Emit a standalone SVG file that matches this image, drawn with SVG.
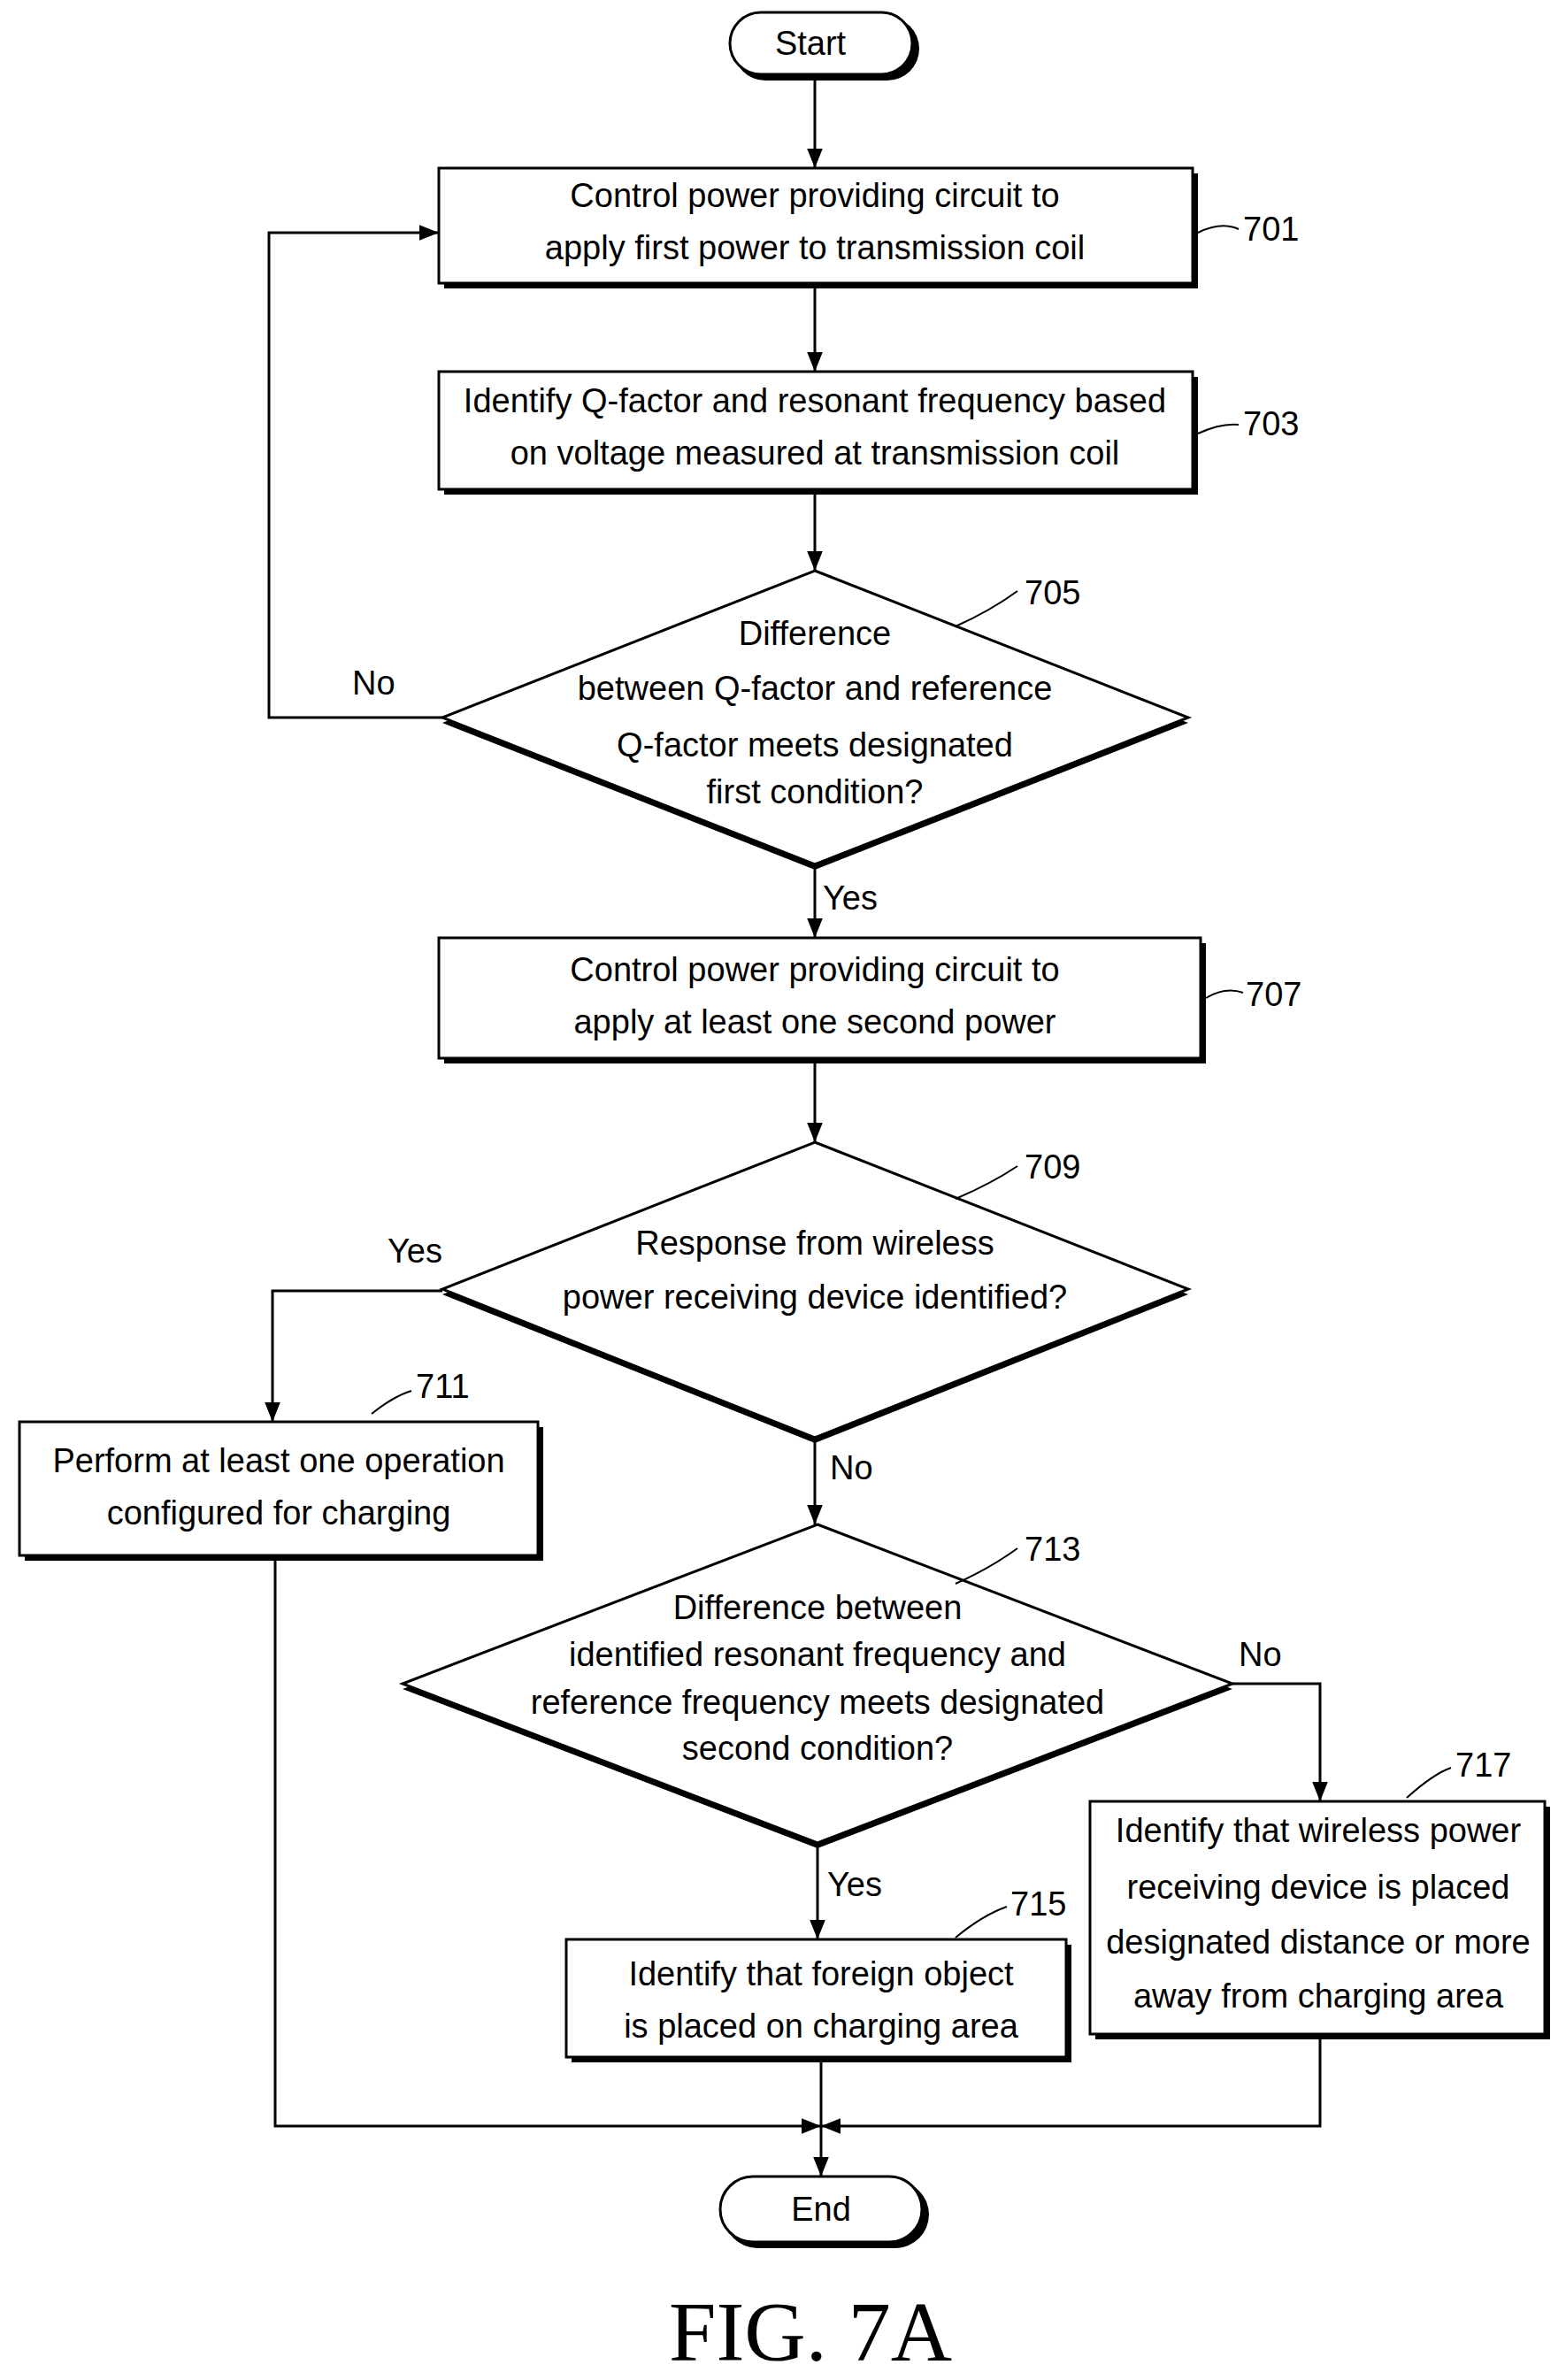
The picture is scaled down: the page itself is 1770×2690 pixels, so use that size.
<svg xmlns="http://www.w3.org/2000/svg" width="1770" height="2690" viewBox="0 0 1770 2690">
<defs>
<marker id="ah" viewBox="0 0 10 10" refX="10" refY="5" markerWidth="22" markerHeight="22" markerUnits="userSpaceOnUse" orient="auto"><path d="M0,1 L10,5 L0,9 z" fill="#000"/></marker>
</defs>
<style>
.b{fill:#fff;stroke:#000;stroke-width:3}
.s{fill:#000}
.t{font-family:"Liberation Sans",Arial,sans-serif;font-size:38px;fill:#000;text-anchor:middle}
.n{font-family:"Liberation Sans",Arial,sans-serif;font-size:38px;fill:#000}
.c{fill:none;stroke:#000;stroke-width:3}
.l{fill:none;stroke:#000;stroke-width:2}
</style>
<rect width="1770" height="2690" fill="#fff"/>
<g id="start"><rect x="829" y="19" width="210" height="72" rx="36" class="s"/><rect x="825" y="14" width="206" height="70" rx="35" class="b"/><text x="916" y="62" class="t">Start</text></g>
<g id="n701"><rect x="502" y="196" width="852" height="130" class="s"/><rect x="496" y="190" width="852" height="130" class="b"/><text x="921" y="234" class="t">Control power providing circuit to</text><text x="921" y="293" class="t">apply first power to transmission coil</text><path d="M1354,263 Q1380,250 1400,259" class="l"/><text x="1405" y="272" class="n">701</text></g>
<g id="n703"><rect x="502" y="426" width="852" height="133" class="s"/><rect x="496" y="420" width="852" height="133" class="b"/><text x="921" y="466" class="t">Identify Q-factor and resonant frequency based</text><text x="921" y="525" class="t">on voltage measured at transmission coil</text><path d="M1354,490 Q1380,478 1400,480" class="l"/><text x="1405" y="492" class="n">703</text></g>
<g id="n705"><polygon points="921,651 1343,817 921,983 500,817" class="s"/><polygon points="921,645 1343,811 921,977 500,811" class="b"/><text x="921" y="729" class="t">Difference</text><text x="921" y="791" class="t">between Q-factor and reference</text><text x="921" y="855" class="t">Q-factor meets designated</text><text x="921" y="908" class="t">first condition?</text><path d="M1080,708 Q1120,690 1150,668" class="l"/><text x="1158" y="683" class="n">705</text></g>
<g id="n707"><rect x="502" y="1066" width="861" height="136" class="s"/><rect x="496" y="1060" width="861" height="136" class="b"/><text x="921" y="1109" class="t">Control power providing circuit to</text><text x="921" y="1168" class="t">apply at least one second power</text><path d="M1363,1128 Q1385,1115 1405,1122" class="l"/><text x="1408" y="1137" class="n">707</text></g>
<g id="n709"><polygon points="921,1297 1343,1463 921,1631 500,1463" class="s"/><polygon points="921,1291 1343,1457 921,1625 500,1457" class="b"/><text x="921" y="1418" class="t">Response from wireless</text><text x="921" y="1479" class="t">power receiving device identified?</text><path d="M1080,1355 Q1120,1338 1150,1318" class="l"/><text x="1158" y="1332" class="n">709</text></g>
<g id="n711"><rect x="28" y="1613" width="586" height="151" class="s"/><rect x="22" y="1607" width="586" height="151" class="b"/><text x="315" y="1664" class="t">Perform at least one operation</text><text x="315" y="1723" class="t">configured for charging</text><path d="M420,1598 Q445,1578 465,1572" class="l"/><text x="470" y="1580" class="n">711</text></g>
<g id="n713"><polygon points="924,1729 1393,1909 924,2089 455,1909" class="s"/><polygon points="924,1723 1393,1903 924,2083 455,1903" class="b"/><text x="924" y="1830" class="t">Difference between</text><text x="924" y="1883" class="t">identified resonant frequency and</text><text x="924" y="1937" class="t">reference frequency meets designated</text><text x="924" y="1989" class="t">second condition?</text><path d="M1080,1790 Q1120,1772 1150,1750" class="l"/><text x="1158" y="1764" class="n">713</text></g>
<g id="n715"><rect x="646" y="2198" width="565" height="133" class="s"/><rect x="640" y="2192" width="565" height="133" class="b"/><text x="928" y="2244" class="t">Identify that foreign object</text><text x="928" y="2303" class="t">is placed on charging area</text><path d="M1080,2190 Q1110,2165 1138,2155" class="l"/><text x="1142" y="2165" class="n">715</text></g>
<g id="n717"><rect x="1238" y="2042" width="514" height="263" class="s"/><rect x="1232" y="2036" width="514" height="263" class="b"/><text x="1490" y="2082" class="t">Identify that wireless power</text><text x="1490" y="2146" class="t">receiving device is placed</text><text x="1490" y="2208" class="t">designated distance or more</text><text x="1490" y="2269" class="t">away from charging area</text><path d="M1590,2032 Q1620,2005 1640,1998" class="l"/><text x="1645" y="2008" class="n">717</text></g>
<g id="end"><rect x="818" y="2465" width="232" height="76" rx="38" class="s"/><rect x="814" y="2460" width="228" height="74" rx="37" class="b"/><text x="928" y="2510" class="t">End</text></g>
<g id="connectors">
<line x1="921" y1="86" x2="921" y2="190" class="c" marker-end="url(#ah)"/>
<line x1="921" y1="320" x2="921" y2="420" class="c" marker-end="url(#ah)"/>
<line x1="921" y1="553" x2="921" y2="645" class="c" marker-end="url(#ah)"/>
<polyline points="500,811 304,811 304,263 496,263" class="c" marker-end="url(#ah)"/>
<line x1="921" y1="977" x2="921" y2="1060" class="c" marker-end="url(#ah)"/>
<line x1="921" y1="1196" x2="921" y2="1291" class="c" marker-end="url(#ah)"/>
<polyline points="500,1459 308,1459 308,1607" class="c" marker-end="url(#ah)"/>
<line x1="921" y1="1625" x2="921" y2="1723" class="c" marker-end="url(#ah)"/>
<polyline points="1393,1903 1492,1903 1492,2036" class="c" marker-end="url(#ah)"/>
<line x1="924" y1="2083" x2="924" y2="2192" class="c" marker-end="url(#ah)"/>
<polyline points="311,1764 311,2403 928,2403" class="c" marker-end="url(#ah)"/>
<polyline points="1492,2305 1492,2403 928,2403" class="c" marker-end="url(#ah)"/>
<line x1="928" y1="2331" x2="928" y2="2460" class="c" marker-end="url(#ah)"/>
<text x="398" y="785" class="n">No</text>
<text x="930" y="1028" class="n">Yes</text>
<text x="438" y="1427" class="n">Yes</text>
<text x="938" y="1672" class="n">No</text>
<text x="1400" y="1883" class="n">No</text>
<text x="935" y="2143" class="n">Yes</text>
</g>
<text x="916" y="2668" style="font-family:'Liberation Serif',serif;font-size:96px;text-anchor:middle">FIG. 7A</text>
</svg>
